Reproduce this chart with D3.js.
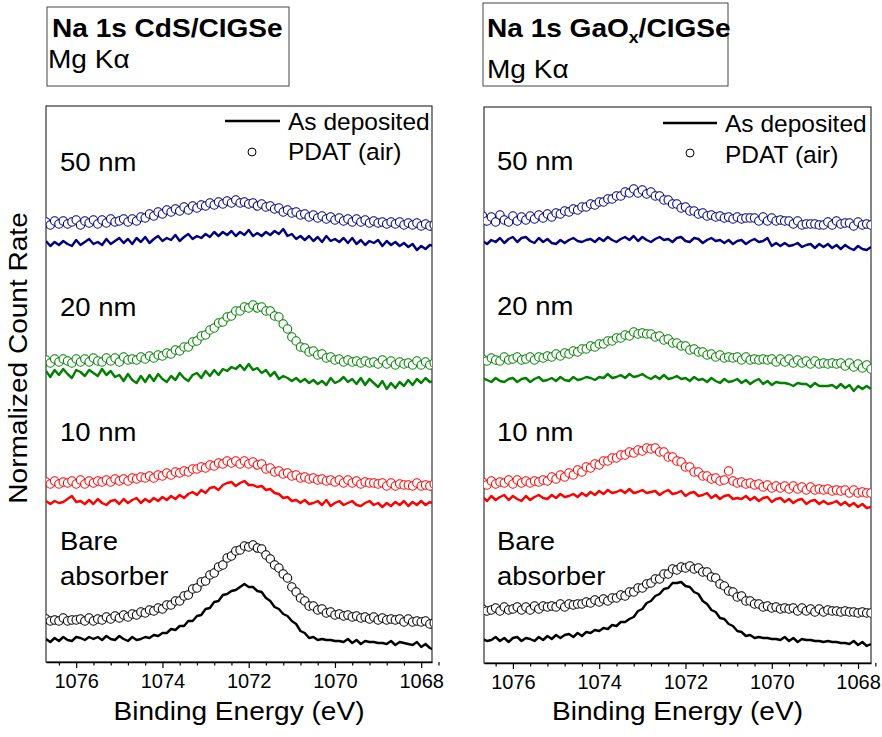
<!DOCTYPE html>
<html>
<head>
<meta charset="utf-8">
<script src="https://cdn.jsdelivr.net/npm/d3@7"></script>
<style>
html,body{margin:0;padding:0;background:#fff;}
svg{display:block;}
text{font-family:"Liberation Sans",Arial,sans-serif;fill:#000;}
</style>
</head>
<body>
<svg id="chart" width="882" height="737"></svg>
<script>
// ---------- DATA ----------
// Binding energy grid (eV), 0.1 eV step from 1076.7 down to 1067.7
const energy = d3.range(91).map(i => +(1076.7 - 0.1 * i).toFixed(1));
const xTicks = [1076, 1074, 1072, 1070, 1068];
const seriesNames = ["As deposited", "PDAT (air)"];
const thicknessLabels = ["50 nm", "20 nm", "10 nm", "Bare absorber"];
const seriesColors = ["#000080", "#008000", "#ff0000", "#000000"];

// Left panel: Na 1s CdS/CIGSe (normalized count rate, offset, arb. units)
const cds50Pdat = [440,437,441,438,441,438,440,442,437,441,439,442,438,442,439,443,440,441,443,440,443,441,445,444,448,446,450,448,452,450,453,451,455,452,456,454,457,456,459,457,460,458,461,459,462,459,460,458,459,456,458,455,456,453,454,450,452,449,450,447,448,445,447,444,446,443,445,442,444,441,443,440,443,440,442,439,441,439,440,438,440,438,440,437,439,437,439,436,438,436,437];
const cds50Dep = [421,416,420,417,421,418,416,422,417,420,423,418,420,417,423,418,421,424,419,423,418,424,420,425,419,423,426,421,424,422,427,421,425,428,423,426,424,428,425,430,426,430,427,431,426,430,427,432,426,429,426,430,427,431,428,433,426,428,423,426,422,426,421,425,420,426,421,423,420,424,419,424,418,422,417,421,419,422,416,421,417,420,416,419,415,418,412,416,413,417,416];
const cds20Pdat = [302,299,303,300,303,301,299,303,300,303,300,304,301,300,304,301,304,300,305,302,303,302,305,303,306,304,307,306,309,308,312,311,315,315,320,321,326,327,332,334,339,340,345,346,351,351,355,354,357,354,355,351,351,346,345,338,333,325,321,315,314,310,311,307,308,304,305,302,303,300,302,300,301,299,301,299,300,298,302,298,301,297,300,298,299,297,301,297,300,297,299];
const cds20Dep = [291,285,292,287,293,288,284,292,290,286,292,289,286,293,287,291,285,287,281,288,282,279,286,280,287,281,288,283,280,286,282,289,284,281,287,289,284,291,286,292,287,293,291,295,293,297,292,298,292,294,289,292,286,290,283,286,284,281,284,280,283,279,282,278,281,277,284,279,281,285,280,283,278,284,277,283,279,275,281,273,279,274,280,276,282,277,283,279,284,280,281];
const cds10Pdat = [180,178,181,178,180,179,181,178,182,178,181,179,181,180,182,180,183,181,183,181,184,183,185,184,186,184,187,186,189,187,190,189,191,190,193,193,195,194,197,196,199,198,201,199,201,198,201,198,200,197,198,193,194,190,191,188,189,186,187,184,185,183,184,182,183,181,182,180,182,179,182,179,181,178,180,179,179,178,179,176,179,176,178,177,177,176,179,176,177,176,178];
const cds10Dep = [161,158,161,159,160,163,166,160,161,158,162,158,163,159,157,161,162,158,163,159,162,164,159,163,160,164,161,165,162,166,163,167,164,168,170,167,172,169,174,175,172,177,179,180,176,179,181,177,177,175,176,172,173,169,168,164,165,161,162,159,162,158,159,161,157,162,156,159,161,157,159,161,157,156,159,161,157,159,155,159,156,160,157,161,156,160,157,161,157,160,158];
const cdsBarePdat = [43,41,42,41,44,41,42,42,43,41,44,41,43,42,45,43,46,44,47,45,48,47,50,49,52,51,54,53,57,57,61,61,66,67,73,74,80,81,87,89,95,97,104,106,111,112,116,115,117,114,113,107,103,97,94,88,84,75,70,64,61,56,56,52,53,49,50,47,48,46,47,45,46,44,45,43,45,42,44,42,43,42,43,40,43,40,41,40,41,38,39];
const cdsBareDep = [23,20,24,21,25,22,21,25,24,22,25,23,25,22,26,23,22,26,23,21,25,22,23,25,24,27,26,29,29,33,32,36,36,41,41,46,47,53,54,60,61,67,68,71,72,75,78,75,75,71,70,64,61,55,53,48,46,41,38,31,29,24,25,22,23,22,22,21,21,20,23,19,22,18,21,20,20,19,19,18,21,17,20,19,18,17,20,15,18,14,12];

// Right panel: Na 1s GaOx/CIGSe
const gao50Pdat = [447,442,446,441,448,443,441,447,442,446,443,447,444,448,445,449,446,450,449,452,451,454,453,456,456,459,458,461,461,464,464,467,467,471,470,474,470,473,469,471,467,467,463,463,459,459,455,456,452,452,449,450,447,448,446,447,445,446,444,446,444,445,445,445,442,446,442,445,442,443,442,442,439,442,438,439,439,439,438,438,441,438,442,439,440,440,437,441,438,439,438];
const gao50Dep = [422,419,423,421,425,420,424,426,421,425,426,422,420,425,421,424,420,419,423,420,423,425,422,421,423,424,421,425,422,426,423,421,424,426,423,427,422,426,423,421,424,426,423,424,421,425,426,422,421,425,424,420,423,425,422,423,420,423,419,422,423,419,422,424,421,422,425,417,420,417,420,417,418,420,416,418,419,415,419,416,419,415,418,414,418,415,413,417,414,413,416];
const gao20Pdat = [304,302,305,303,302,306,303,304,306,303,304,306,303,306,305,307,306,309,307,310,309,312,311,314,314,317,316,319,319,322,322,325,325,328,327,331,329,330,329,329,326,327,323,324,320,320,317,317,313,314,311,311,308,309,306,308,305,306,305,306,303,306,303,304,303,304,303,304,301,304,301,304,300,303,300,302,299,302,299,300,299,300,299,300,297,300,296,299,295,298,294];
const gao20Dep = [285,283,281,285,282,281,284,285,281,284,285,281,284,286,282,283,285,282,286,283,282,286,283,284,286,285,283,286,285,289,285,286,288,285,289,286,287,289,286,284,287,284,288,284,285,287,284,285,282,286,283,284,281,285,282,280,284,281,282,284,280,283,279,282,284,279,282,278,281,280,280,279,277,280,279,279,276,280,277,277,277,278,275,279,275,278,272,277,274,277,274];
const gao10Pdat = [181,178,182,179,181,180,183,179,183,180,182,180,182,181,183,182,186,184,188,186,190,188,193,191,196,195,199,198,202,202,205,205,208,208,211,210,213,212,215,214,215,211,211,206,206,202,201,196,196,191,191,187,187,184,185,182,183,192,182,180,181,179,180,178,179,176,178,175,177,175,177,174,177,174,176,173,176,173,174,173,174,172,173,172,173,170,173,170,171,170,170];
const gao10Dep = [166,162,167,163,166,168,163,167,164,162,167,163,166,168,165,164,168,165,169,166,167,169,166,170,167,171,168,172,169,173,170,171,173,170,174,170,171,173,170,171,172,168,171,173,169,170,172,167,170,171,167,168,170,165,168,164,167,168,164,165,164,167,163,166,162,165,166,161,164,165,161,164,160,163,164,159,162,163,159,162,159,160,162,158,161,157,160,156,159,155,156];
const gaoBarePdat = [54,52,53,55,52,56,53,54,56,53,56,53,57,54,57,56,57,56,59,56,59,58,59,59,61,60,63,61,64,62,65,65,68,67,71,71,75,75,79,80,84,84,89,89,94,93,96,95,97,94,95,91,91,86,85,79,77,72,71,66,67,62,62,59,59,56,57,55,56,54,55,54,55,52,55,52,54,51,54,51,53,52,52,51,52,51,51,50,51,50,50];
const gaoBareDep = [24,22,23,26,22,25,21,25,26,22,25,24,22,26,23,27,24,28,25,28,29,26,30,27,31,30,33,32,35,34,38,37,41,41,44,46,52,54,60,62,67,69,74,75,80,80,81,77,76,71,69,62,59,53,51,45,44,39,37,32,31,27,28,25,26,25,25,24,24,23,26,22,25,21,24,23,23,22,22,21,22,21,21,20,20,19,22,18,21,17,19];

const panels = [
  { title: "Na 1s CdS/CIGSe", sub: null, xDomain: [1076.7, 1067.75],
    dep: [cds50Dep, cds20Dep, cds10Dep, cdsBareDep],
    pdat: [cds50Pdat, cds20Pdat, cds10Pdat, cdsBarePdat] },
  { title: "Na 1s GaO", sub: "x", titleEnd: "/CIGSe", xDomain: [1076.67, 1067.7],
    dep: [gao50Dep, gao20Dep, gao10Dep, gaoBareDep],
    pdat: [gao50Pdat, gao20Pdat, gao10Pdat, gaoBarePdat] }
];

// ---------- LAYOUT ----------
const layout = [
  { left: 46, right: 432, top: 106, bottom: 662,
    box: {x: 47, y: 7, w: 242, h: 79}, titleX: 52, titleY: 37, mgY: 68,
    legend: {lx1: 225, lx2: 280, ly: 121, tx: 288, t1y: 130, cx: 252, cy: 152, t2y: 160},
    labelX: 60, labelY: [171, 316, 441, 550] },
  { left: 484, right: 871, top: 107, bottom: 663,
    box: {x: 483, y: 3, w: 245, h: 83}, titleX: 487, titleY: 37, mgY: 78,
    legend: {lx1: 663, lx2: 717, ly: 123, tx: 725, t1y: 132, cx: 690, cy: 153, t2y: 163},
    labelX: 497, labelY: [170, 315, 441, 550] }
];

const svg = d3.select("#chart");

function addText(parent, x, y, str, size, opts = {}) {
  const sx = opts.sx || 1;
  const rot = opts.rotate ? `rotate(${opts.rotate})` : "";
  const t = parent.append("text")
    .attr("transform", `translate(${x},${y}) ${rot} scale(${sx},1)`)
    .attr("font-size", size)
    .attr("font-weight", opts.bold ? "bold" : "normal")
    .attr("text-anchor", opts.anchor || "start")
    .text(str);
  return t;
}

panels.forEach((p, k) => {
  const L = layout[k];
  const g = svg.append("g");
  const x = d3.scaleLinear().domain(p.xDomain).range([L.left, L.right]);
  const y = d3.scaleLinear().domain([0, 556]).range([L.bottom, L.top]);

  const cid = "clip" + k;
  svg.append("defs").append("clipPath").attr("id", cid)
    .append("rect").attr("x", L.left).attr("y", L.top)
    .attr("width", L.right - L.left).attr("height", L.bottom - L.top);

  // title box
  g.append("rect").attr("x", L.box.x).attr("y", L.box.y)
    .attr("width", L.box.w).attr("height", L.box.h)
    .attr("fill", "none").attr("stroke", "#444").attr("stroke-width", 1);
  const tt = addText(g, L.titleX, L.titleY, "", 25.5, {bold: true, sx: 1.1});
  if (p.sub) {
    tt.append("tspan").text(p.title);
    tt.append("tspan").attr("font-size", 16).attr("dy", 6).text(p.sub);
    tt.append("tspan").attr("dy", -6).text(p.titleEnd);
  } else {
    tt.text(p.title);
  }
  addText(g, L.titleX - (k === 0 ? 4 : 0), L.mgY, "Mg K\u03B1", 25.5, {sx: 1.1});

  // frame
  g.append("rect").attr("x", L.left).attr("y", L.top)
    .attr("width", L.right - L.left).attr("height", L.bottom - L.top)
    .attr("fill", "none").attr("stroke", "#333").attr("stroke-width", 1.2);

  // x axis
  const minor = d3.range(1076.4, 1067.6, -0.4).map(v => +v.toFixed(1));
  const ax = d3.axisBottom(x).tickValues(xTicks).tickSize(6).tickSizeOuter(0)
    .tickFormat(d3.format("d")).tickPadding(6);
  const axG = g.append("g").attr("transform", `translate(0,${L.bottom})`).call(ax);
  axG.select(".domain").attr("stroke", "#000").attr("stroke-width", 1.5);
  axG.selectAll(".tick line").attr("stroke", "#000").attr("stroke-width", 1.2);
  axG.selectAll(".tick text").attr("font-size", 20)
    .attr("font-family", "'Liberation Sans', Arial, sans-serif").attr("fill", "#000");
  const axMinor = d3.axisBottom(x).tickValues(minor.filter(v => !xTicks.includes(Math.round(v*10)/10)))
    .tickSize(3.5).tickSizeOuter(0).tickFormat("");
  const mG = g.append("g").attr("transform", `translate(0,${L.bottom})`).call(axMinor);
  mG.select(".domain").remove();
  mG.selectAll(".tick line").attr("stroke", "#000").attr("stroke-width", 1.2);

  // x label
  addText(g, (L.left + L.right) / 2, 720, "Binding Energy (eV)", 25.5, {anchor: "middle", sx: 1.1});

  // data
  const plot = g.append("g").attr("clip-path", `url(#${cid})`);
  const line = d3.line().x((d, i) => x(energy[i])).y(d => y(d));
  p.pdat.forEach((arr, s) => {
    plot.append("g").selectAll("circle").data(arr).join("circle")
      .attr("cx", (d, i) => x(energy[i])).attr("cy", d => y(d)).attr("r", 4.2)
      .attr("fill", "#fff").attr("stroke", seriesColors[s]).attr("stroke-width", 1.1);
  });
  p.dep.forEach((arr, s) => {
    plot.append("path").datum(arr).attr("d", line)
      .attr("fill", "none").attr("stroke", seriesColors[s]).attr("stroke-width", 2.4)
      .attr("stroke-linejoin", "round");
  });

  // thickness labels
  thicknessLabels.forEach((lab, s) => {
    if (lab === "Bare absorber") {
      addText(g, L.labelX, L.labelY[s], "Bare", 25, {sx: 1.1});
      addText(g, L.labelX, L.labelY[s] + 35, "absorber", 25, {sx: 1.1});
    } else {
      addText(g, L.labelX, L.labelY[s], lab, 25, {sx: 1.1});
    }
  });

  // legend
  const lg = L.legend;
  g.append("line").attr("x1", lg.lx1).attr("x2", lg.lx2).attr("y1", lg.ly).attr("y2", lg.ly)
    .attr("stroke", "#000").attr("stroke-width", 2.4);
  addText(g, lg.tx, lg.t1y, seriesNames[0], 24.5);
  g.append("circle").attr("cx", lg.cx).attr("cy", lg.cy).attr("r", 4)
    .attr("fill", "#fff").attr("stroke", "#000").attr("stroke-width", 1);
  addText(g, lg.tx, lg.t2y, seriesNames[1], 24.5);
});

// y label
addText(svg, 27, 358, "Normalized Count Rate", 25.5, {anchor: "middle", rotate: -90, sx: 1.1});
</script>
</body>
</html>
